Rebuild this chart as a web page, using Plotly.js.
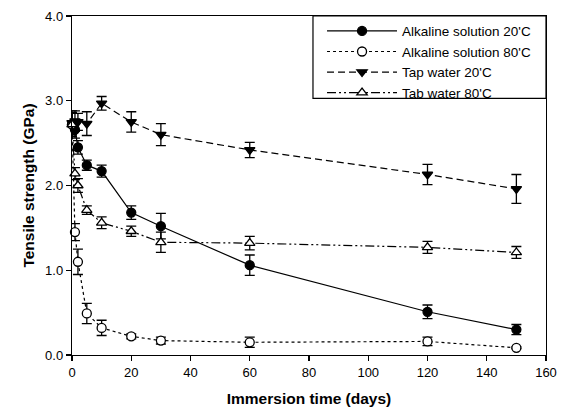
<!DOCTYPE html>
<html><head><meta charset="utf-8">
<script src="https://cdn.plot.ly/plotly-3.0.1.min.js"></script>
<style>html,body{margin:0;padding:0;background:#fff}</style>
</head><body>
<div id="chart" style="width:561px;height:411px"></div>
<script>
const days = [0, 1, 2, 5, 10, 20, 30, 60, 120, 150];
const seriesNames = ["Alkaline solution 20'C", "Alkaline solution 80'C", "Tap water 20'C", "Tab water 80'C"];
const alk20 = [2.72, 2.66, 2.45, 2.24, 2.17, 1.68, 1.52, 1.06, 0.51, 0.30];
const alk20Err = [0.14, 0.10, 0.08, 0.06, 0.07, 0.08, 0.15, 0.12, 0.08, 0.06];
const alk80 = [2.72, 1.45, 1.10, 0.49, 0.32, 0.22, 0.17, 0.15, 0.16, 0.085];
const alk80Err = [0.14, 0.10, 0.15, 0.12, 0.09, 0.03, 0.04, 0.06, 0.05, 0.01];
const tap20 = [2.74, 2.76, 2.75, 2.73, 2.97, 2.75, 2.60, 2.42, 2.13, 1.96];
const tap20Err = [0.14, 0.12, 0.10, 0.14, 0.08, 0.12, 0.13, 0.09, 0.12, 0.17];
const tab80 = [2.72, 2.14, 2.00, 1.71, 1.56, 1.46, 1.33, 1.32, 1.27, 1.21];
const tab80Err = [0.14, 0.07, 0.08, 0.05, 0.07, 0.06, 0.12, 0.08, 0.07, 0.07];

const xTicks = [0, 20, 40, 60, 80, 100, 120, 140, 160];
const yTicks = [0, 1, 2, 3, 4];

function tr(name, y, err, dash, symbol, fill) {
  return {
    type: 'scatter', mode: 'lines+markers', name: name, x: days, y: y,
    line: {color: '#000', width: 1.2, dash: dash},
    marker: {symbol: symbol, size: 9, color: fill, line: {color: '#000', width: 1.3}},
    error_y: {type: 'data', array: err, visible: true, color: '#000', thickness: 1.3, width: 5},
    cliponaxis: false
  };
}
const data = [
  tr(seriesNames[0], alk20, alk20Err, 'solid', 'circle', '#000'),
  tr(seriesNames[1], alk80, alk80Err, 'dot', 'circle', '#fff'),
  tr(seriesNames[2], tap20, tap20Err, '7px,4px', 'triangle-down', '#000'),
  tr(seriesNames[3], tab80, tab80Err, '9px,3px,2px,3px,2px,3px', 'triangle-up', '#fff')
];
const FF = 'Liberation Sans, Arial, sans-serif';
const axFont = {family: FF, size: 13, color: '#000'};
const titleFont = {family: FF, size: 15.5, color: '#000'};
const layout = {
  width: 561, height: 411,
  margin: {l: 72, r: 15, t: 16, b: 56, pad: 0},
  paper_bgcolor: '#fff', plot_bgcolor: '#fff',
  showlegend: true,
  legend: {x: 0.5275, y: 1.001, xanchor: 'left', yanchor: 'top', bgcolor: 'rgba(0,0,0,0)',
           font: {family: FF, size: 13.5, color: '#000'}, itemwidth: 70,
           borderwidth: 0, tracegroupgap: 0},
  xaxis: {range: [0, 160], tickvals: xTicks, ticks: 'outside', ticklen: 5, tickwidth: 1.2, tickcolor: '#000',
          showline: true, linecolor: '#000', linewidth: 1.2, mirror: true, showgrid: false, zeroline: false,
          tickfont: axFont,
          title: {text: '<b>Immersion time (days)</b>', font: titleFont, standoff: 14}},
  yaxis: {range: [0, 4], tickvals: yTicks, tickformat: '.1f', ticks: 'outside', ticklen: 5, tickwidth: 1.2, tickcolor: '#000',
          showline: true, linecolor: '#000', linewidth: 1.2, mirror: true, showgrid: false, zeroline: false,
          tickfont: axFont,
          title: {text: '<b>Tensile strength (GPa)</b>', font: titleFont, standoff: 6}},
  shapes: [{type: 'rect', xref: 'paper', yref: 'paper', x0: 0.5084, x1: 1, y0: 0.757, y1: 1,
            line: {color: '#000', width: 1.2}, fillcolor: 'rgba(0,0,0,0)'}]
};
Plotly.newPlot('chart', data, layout, {displayModeBar: false, staticPlot: true});
</script>
</body></html>
